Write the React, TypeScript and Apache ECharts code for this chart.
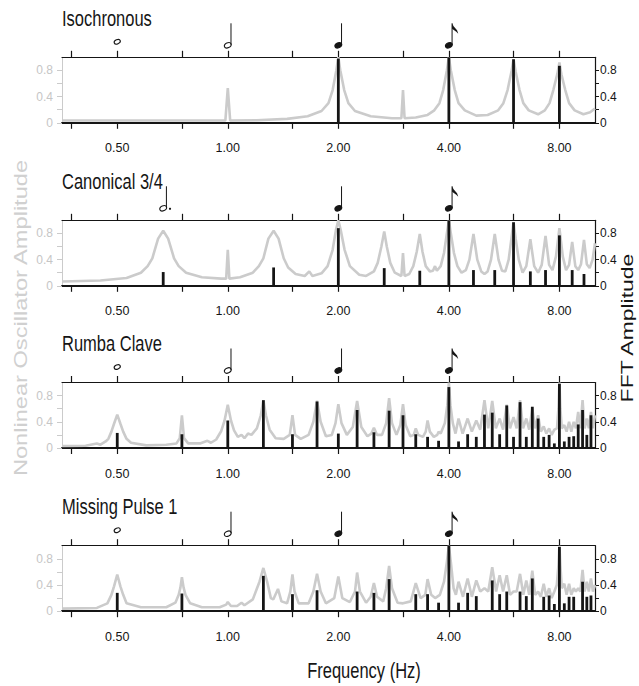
import React, { useEffect, useRef } from "react";
import * as echarts from "echarts";

// ---------- data ----------
const PANEL_TITLES = ["Isochronous", "Canonical 3/4", "Rumba Clave", "Missing Pulse 1"];
const LABEL_FREQS = [0.5, 1, 2, 4, 8];
const TICK_FREQS = [0.375, 0.5, 0.75, 1, 1.5, 2, 3, 4, 6, 8];
const Y_TICKS = [0, 0.2, 0.4, 0.6, 0.8];
const Y_LABELS = [0, 0.4, 0.8];
const F_MIN = 0.3536;
const F_MAX = 10;

const NOTE_KINDS = ["whole", "half", "dottedHalf", "quarter", "eighth"];
const NOTES_ISO: [number, string][] = [[0.5, "whole"], [1, "half"], [2, "quarter"], [4, "eighth"]];
const NOTES_CAN: [number, string][] = [[0.667, "dottedHalf"], [2, "quarter"], [4, "eighth"]];
const NOTES_RUM: [number, string][] = [[0.5, "whole"], [1, "half"], [2, "quarter"], [4, "eighth"]];
const NOTES_MIS: [number, string][] = [[0.5, "whole"], [1, "half"], [2, "quarter"], [4, "eighth"]];

// Nonlinear oscillator amplitude (grey), [Hz, amplitude]
const GRAY_ISO = [
  [0.354, 0.035], [0.6, 0.035], [0.9, 0.035], [0.985, 0.035], [1.0, 0.53], [1.015, 0.035], [1.2, 0.04],
  [1.45, 0.06], [1.65, 0.1], [1.8, 0.18], [1.88, 0.3], [1.93, 0.5], [1.975, 0.8], [2.0, 1.0], [2.025, 0.8],
  [2.075, 0.5], [2.13, 0.3], [2.22, 0.18], [2.45, 0.1], [2.8, 0.07], [2.97, 0.07], [3.0, 0.5], [3.03, 0.07],
  [3.25, 0.08], [3.5, 0.12], [3.65, 0.19], [3.77, 0.3], [3.86, 0.5], [3.95, 0.8], [4.0, 1.0], [4.05, 0.8],
  [4.15, 0.5], [4.25, 0.3], [4.42, 0.19], [4.75, 0.11], [5.1, 0.12], [5.45, 0.19], [5.63, 0.3], [5.78, 0.5],
  [5.93, 0.8], [6.0, 0.97], [6.08, 0.78], [6.23, 0.5], [6.38, 0.3], [6.6, 0.19], [7.0, 0.13], [7.3, 0.19],
  [7.52, 0.3], [7.7, 0.5], [7.9, 0.75], [8.0, 0.92], [8.1, 0.74], [8.3, 0.5], [8.5, 0.3], [8.8, 0.19],
  [9.3, 0.13], [9.7, 0.16], [10.0, 0.22],
];
const GRAY_CAN = [
  [0.354, 0.065], [0.45, 0.08], [0.53, 0.12], [0.58, 0.2], [0.605, 0.3], [0.623, 0.42], [0.646, 0.72],
  [0.667, 0.84], [0.688, 0.72], [0.714, 0.42], [0.735, 0.3], [0.77, 0.2], [0.85, 0.13], [0.96, 0.11],
  [0.99, 0.11], [1.0, 0.55], [1.01, 0.11], [1.08, 0.13], [1.17, 0.2], [1.215, 0.3], [1.25, 0.42], [1.29, 0.72],
  [1.333, 0.84], [1.375, 0.72], [1.42, 0.42], [1.46, 0.28], [1.53, 0.18], [1.62, 0.15], [1.667, 0.22],
  [1.7, 0.15], [1.8, 0.19], [1.87, 0.3], [1.93, 0.55], [1.97, 0.85], [2.0, 1.0], [2.03, 0.85], [2.08, 0.55],
  [2.15, 0.3], [2.28, 0.17], [2.38, 0.15], [2.5, 0.22], [2.56, 0.35], [2.62, 0.6], [2.667, 0.83], [2.71, 0.6],
  [2.77, 0.35], [2.85, 0.2], [2.97, 0.15], [3.0, 0.5], [3.03, 0.15], [3.12, 0.18], [3.2, 0.3], [3.27, 0.52],
  [3.333, 0.79], [3.39, 0.52], [3.46, 0.3], [3.55, 0.22], [3.62, 0.23], [3.667, 0.3], [3.71, 0.23], [3.8, 0.3],
  [3.88, 0.5], [3.95, 0.8], [4.0, 1.0], [4.05, 0.8], [4.13, 0.5], [4.22, 0.3], [4.33, 0.2], [4.45, 0.24],
  [4.55, 0.4], [4.667, 0.79], [4.78, 0.4], [4.9, 0.22], [5.0, 0.18], [5.1, 0.22], [5.21, 0.4], [5.333, 0.79],
  [5.46, 0.4], [5.58, 0.23], [5.7, 0.22], [5.82, 0.4], [5.93, 0.75], [6.0, 0.97], [6.08, 0.72], [6.2, 0.4],
  [6.35, 0.2], [6.5, 0.3], [6.667, 0.71], [6.83, 0.3], [7.0, 0.2], [7.16, 0.32], [7.333, 0.76], [7.5, 0.32],
  [7.66, 0.24], [7.83, 0.45], [8.0, 0.88], [8.17, 0.45], [8.34, 0.24], [8.5, 0.32], [8.667, 0.67], [8.84, 0.3],
  [9.0, 0.24], [9.16, 0.33], [9.333, 0.7], [9.5, 0.33], [9.67, 0.27], [9.85, 0.4], [10.0, 0.65],
];
const GRAY_RUM = [
  [0.354, 0.03], [0.41, 0.035], [0.44, 0.07], [0.45, 0.05], [0.465, 0.1], [0.473, 0.14], [0.482, 0.25],
  [0.49, 0.37], [0.5, 0.51], [0.51, 0.37], [0.519, 0.25], [0.53, 0.14], [0.545, 0.08], [0.6, 0.04],
  [0.68, 0.05], [0.725, 0.07], [0.74, 0.15], [0.75, 0.5], [0.76, 0.15], [0.78, 0.07], [0.84, 0.07],
  [0.88, 0.11], [0.9, 0.08], [0.93, 0.13], [0.96, 0.26], [0.98, 0.42], [1.0, 0.66], [1.02, 0.42], [1.04, 0.27],
  [1.065, 0.17], [1.09, 0.2], [1.11, 0.15], [1.135, 0.22], [1.16, 0.2], [1.2, 0.3], [1.23, 0.5], [1.25, 0.73],
  [1.27, 0.5], [1.3, 0.28], [1.35, 0.15], [1.42, 0.14], [1.475, 0.2], [1.5, 0.5], [1.525, 0.2], [1.58, 0.14],
  [1.66, 0.2], [1.71, 0.4], [1.75, 0.72], [1.79, 0.4], [1.85, 0.18], [1.92, 0.2], [1.965, 0.38], [2.0, 0.67],
  [2.04, 0.38], [2.11, 0.2], [2.19, 0.32], [2.25, 0.72], [2.31, 0.32], [2.4, 0.18], [2.46, 0.22], [2.5, 0.31],
  [2.55, 0.2], [2.63, 0.2], [2.7, 0.38], [2.75, 0.76], [2.8, 0.38], [2.88, 0.2], [2.95, 0.35], [3.0, 0.67],
  [3.05, 0.35], [3.14, 0.18], [3.21, 0.2], [3.25, 0.3], [3.3, 0.2], [3.4, 0.17], [3.46, 0.25], [3.5, 0.42],
  [3.55, 0.25], [3.64, 0.17], [3.72, 0.2], [3.75, 0.25], [3.8, 0.22], [3.9, 0.38], [3.96, 0.65], [4.0, 1.0],
  [4.04, 0.65], [4.1, 0.38], [4.17, 0.22], [4.25, 0.45], [4.36, 0.22], [4.5, 0.45], [4.62, 0.25], [4.75, 0.42],
  [4.87, 0.28], [5.0, 0.73], [5.12, 0.3], [5.25, 0.72], [5.37, 0.3], [5.5, 0.45], [5.62, 0.28], [5.75, 0.66],
  [5.87, 0.3], [6.0, 0.47], [6.12, 0.3], [6.25, 0.73], [6.37, 0.3], [6.5, 0.45], [6.62, 0.28], [6.75, 0.6],
  [6.87, 0.3], [7.0, 0.5], [7.12, 0.25], [7.25, 0.33], [7.37, 0.22], [7.5, 0.3], [7.62, 0.2], [7.75, 0.28],
  [7.88, 0.3], [7.95, 0.6], [8.0, 1.0], [8.05, 0.6], [8.12, 0.3], [8.25, 0.35], [8.37, 0.25], [8.5, 0.4],
  [8.62, 0.25], [8.75, 0.4], [8.87, 0.3], [9.0, 0.55], [9.12, 0.3], [9.25, 0.73], [9.37, 0.3], [9.5, 0.45],
  [9.62, 0.3], [9.75, 0.55], [9.87, 0.3], [10.0, 0.5],
];
const GRAY_MIS = [
  [0.354, 0.04], [0.44, 0.05], [0.47, 0.12], [0.482, 0.25], [0.49, 0.38], [0.5, 0.56], [0.51, 0.38],
  [0.519, 0.25], [0.53, 0.12], [0.58, 0.06], [0.68, 0.06], [0.72, 0.13], [0.735, 0.25], [0.743, 0.36],
  [0.75, 0.52], [0.758, 0.36], [0.767, 0.25], [0.79, 0.12], [0.85, 0.06], [0.95, 0.06], [0.99, 0.1],
  [1.0, 0.14], [1.02, 0.08], [1.06, 0.08], [1.09, 0.13], [1.11, 0.09], [1.17, 0.18], [1.22, 0.45],
  [1.25, 0.66], [1.28, 0.45], [1.31, 0.2], [1.33, 0.18], [1.37, 0.34], [1.4, 0.15], [1.45, 0.12], [1.48, 0.3],
  [1.5, 0.56], [1.52, 0.3], [1.56, 0.12], [1.66, 0.12], [1.71, 0.3], [1.75, 0.57], [1.79, 0.3], [1.85, 0.12],
  [1.95, 0.2], [2.0, 0.53], [2.05, 0.2], [2.15, 0.14], [2.22, 0.3], [2.25, 0.59], [2.29, 0.3], [2.38, 0.13],
  [2.45, 0.22], [2.5, 0.43], [2.55, 0.22], [2.65, 0.15], [2.7, 0.35], [2.75, 0.69], [2.8, 0.35], [2.9, 0.13],
  [3.0, 0.12], [3.15, 0.15], [3.25, 0.43], [3.35, 0.2], [3.45, 0.25], [3.5, 0.49], [3.58, 0.25], [3.67, 0.2],
  [3.78, 0.25], [3.88, 0.45], [3.95, 0.75], [4.0, 1.0], [4.05, 0.75], [4.12, 0.35], [4.18, 0.25], [4.25, 0.45],
  [4.37, 0.22], [4.5, 0.5], [4.62, 0.22], [4.75, 0.47], [4.87, 0.3], [5.0, 0.35], [5.12, 0.3], [5.25, 0.67],
  [5.38, 0.3], [5.5, 0.55], [5.62, 0.3], [5.75, 0.55], [5.87, 0.25], [6.0, 0.3], [6.12, 0.3], [6.25, 0.57],
  [6.38, 0.25], [6.5, 0.47], [6.62, 0.25], [6.75, 0.62], [6.87, 0.25], [7.0, 0.3], [7.12, 0.22], [7.25, 0.42],
  [7.37, 0.22], [7.5, 0.35], [7.62, 0.2], [7.75, 0.3], [7.87, 0.4], [7.95, 0.7], [8.0, 1.0], [8.05, 0.7],
  [8.12, 0.35], [8.25, 0.42], [8.37, 0.25], [8.5, 0.42], [8.62, 0.25], [8.75, 0.35], [8.87, 0.3], [9.0, 0.35],
  [9.12, 0.3], [9.25, 0.63], [9.37, 0.3], [9.5, 0.45], [9.62, 0.3], [9.75, 0.5], [9.87, 0.3], [10.0, 0.4],
];

// FFT amplitude (black), [Hz, amplitude]
const BLACK_ISO = [[2, 0.98], [4, 1.0], [6, 0.97], [8, 0.87]];
const BLACK_CAN = [
  [0.667, 0.21], [1.333, 0.28], [2, 0.88], [2.667, 0.27], [3.333, 0.23], [4, 1.0], [4.667, 0.24],
  [5.333, 0.24], [6, 0.97], [6.667, 0.22], [7.333, 0.24], [8, 0.77], [8.667, 0.24], [9.333, 0.18],
];
const BLACK_RUM = [
  [0.5, 0.23], [0.75, 0.21], [1, 0.42], [1.25, 0.73], [1.5, 0.21], [1.75, 0.71], [2, 0.22], [2.25, 0.58],
  [2.5, 0.24], [2.75, 0.57], [3, 0.5], [3.25, 0.21], [3.5, 0.17], [3.75, 0.11], [4, 0.93], [4.25, 0.1],
  [4.5, 0.21], [4.75, 0.17], [5, 0.51], [5.25, 0.54], [5.5, 0.21], [5.75, 0.65], [6, 0.17], [6.25, 0.7],
  [6.5, 0.17], [6.75, 0.63], [7, 0.45], [7.25, 0.17], [7.5, 0.2], [7.75, 0.07], [8, 0.98], [8.25, 0.1],
  [8.5, 0.17], [8.75, 0.18], [9, 0.36], [9.25, 0.58], [9.5, 0.2], [9.75, 0.5],
];
const BLACK_MIS = [
  [0.5, 0.28], [0.75, 0.27], [1.25, 0.54], [1.5, 0.26], [1.75, 0.32], [2.25, 0.3], [2.5, 0.28], [2.75, 0.49],
  [3.25, 0.26], [3.5, 0.26], [3.75, 0.13], [4, 1.0], [4.25, 0.13], [4.5, 0.28], [4.75, 0.23], [5.25, 0.47],
  [5.5, 0.26], [5.75, 0.3], [6.25, 0.3], [6.5, 0.23], [6.75, 0.5], [7.25, 0.22], [7.5, 0.24], [7.75, 0.11],
  [8, 0.98], [8.25, 0.12], [8.5, 0.22], [8.75, 0.22], [9.25, 0.45], [9.5, 0.22], [9.75, 0.24],
];

const GRAYS = [GRAY_ISO, GRAY_CAN, GRAY_RUM, GRAY_MIS];
const BLACKS = [BLACK_ISO, BLACK_CAN, BLACK_RUM, BLACK_MIS];
const NOTES = [NOTES_ISO, NOTES_CAN, NOTES_RUM, NOTES_MIS];

// ---------- layout / style ----------
const GRID_TOPS = [57.3, 220.3, 382.5, 545.7];
const GRID_H = 65.5;
const GRID_LEFT = 62;
const GRID_RIGHT = 44;
const FONT = '"Liberation Sans", Arial, Helvetica, sans-serif';
const GRAY = "#cbcbcb";
const GRAY_TEXT = "#c6c6c6";
const INK = "#151515";

const log2 = (f: number) => Math.log2(f);

function renderNote(params: any, api: any) {
  const xv = api.value(0);
  const kind = NOTE_KINDS[api.value(2)];
  const p = api.coord([xv, 1]);
  const x = p[0];
  const T = p[1];
  const filled = kind === "quarter" || kind === "eighth";
  const headY = kind === "whole" ? T - 15.5 : T - 12;
  const children: any[] = [
    {
      type: "ellipse",
      x: x,
      y: headY,
      rotation: 0.4,
      shape: { cx: 0, cy: 0, rx: kind === "whole" ? 3.2 : 3.6, ry: kind === "whole" ? 2.1 : 2.5 },
      style: { fill: filled ? INK : "none", stroke: INK, lineWidth: 1.1 },
    },
  ];
  if (kind !== "whole") {
    const sx = x + 3.2;
    const top = T - 34;
    children.push({
      type: "line",
      shape: { x1: sx, y1: headY - 0.5, x2: sx, y2: top },
      style: { stroke: INK, lineWidth: 1 },
    });
    if (kind === "eighth") {
      children.push({
        type: "polygon",
        shape: {
          points: [[sx, top], [sx + 1.5, top + 3], [sx + 5, top + 7], [sx + 6.2, top + 10.5], [sx + 4.2, top + 8.5], [sx, top + 5.5]],
        },
        style: { fill: INK },
      });
    }
    if (kind === "dottedHalf") {
      children.push({ type: "circle", shape: { cx: x + 6.8, cy: headY + 0.5, r: 1.1 }, style: { fill: INK } });
    }
  }
  return { type: "group", children };
}

function buildOption() {
  const grid: any[] = [];
  const xAxis: any[] = [];
  const yAxis: any[] = [];
  const series: any[] = [];
  const graphic: any[] = [];
  const xMin = log2(F_MIN);
  const xMax = log2(F_MAX);
  const tickVals = TICK_FREQS.map(log2);
  const labelVals = LABEL_FREQS.map(log2);

  for (let i = 0; i < 4; i++) {
    grid.push({ left: GRID_LEFT, right: GRID_RIGHT, top: GRID_TOPS[i], height: GRID_H, containLabel: false });
    // bottom x axis (labels)
    xAxis.push({
      type: "value", gridIndex: i, position: "bottom", min: xMin, max: xMax,
      axisLine: { show: true, onZero: false, lineStyle: { color: INK, width: 2 } },
      axisTick: { show: true, inside: false, length: 6, customValues: tickVals, lineStyle: { color: INK, width: 1.2 } },
      axisLabel: {
        show: true, customValues: labelVals, margin: 19, fontSize: 12.5, fontFamily: FONT, color: INK,
        formatter: (v: number) => Math.pow(2, v).toFixed(2),
      },
      splitLine: { show: false },
    });
    // top x axis (ticks only)
    xAxis.push({
      type: "value", gridIndex: i, position: "top", min: xMin, max: xMax,
      axisLine: { show: true, onZero: false, lineStyle: { color: INK, width: 1.2 } },
      axisTick: { show: true, inside: false, length: 6.5, customValues: tickVals, lineStyle: { color: INK, width: 1.2 } },
      axisLabel: { show: false },
      splitLine: { show: false },
    });
    // left y axis (oscillator, grey)
    yAxis.push({
      type: "value", gridIndex: i, position: "left", min: 0, max: 1,
      axisLine: { show: true, onZero: false, lineStyle: { color: GRAY, width: 1 } },
      axisTick: { show: true, inside: false, length: 5, customValues: Y_TICKS, lineStyle: { color: GRAY } },
      axisLabel: {
        show: true, customValues: Y_LABELS, margin: 9, fontSize: 12, fontFamily: FONT, color: GRAY_TEXT,
        formatter: (v: number) => (v === 0 ? "0" : v.toFixed(1)),
      },
      splitLine: { show: false },
    });
    // right y axis (FFT, black)
    yAxis.push({
      type: "value", gridIndex: i, position: "right", min: 0, max: 1,
      axisLine: { show: true, onZero: false, lineStyle: { color: INK, width: 1.2 } },
      axisTick: { show: true, inside: false, length: 4, customValues: Y_TICKS, lineStyle: { color: INK } },
      axisLabel: {
        show: true, customValues: Y_LABELS, margin: 5, fontSize: 12, fontFamily: FONT, color: INK,
        formatter: (v: number) => (v === 0 ? "0" : v.toFixed(1)),
      },
      splitLine: { show: false },
    });

    series.push({
      type: "line", name: "oscillator " + PANEL_TITLES[i], xAxisIndex: 2 * i, yAxisIndex: 2 * i,
      data: GRAYS[i].map(([f, a]) => [log2(f), a]),
      showSymbol: false, symbol: "none", smooth: false,
      lineStyle: { color: GRAY, width: 2.6 }, z: 2, silent: true,
    });
    series.push({
      type: "bar", name: "fft " + PANEL_TITLES[i], xAxisIndex: 2 * i, yAxisIndex: 2 * i + 1,
      data: BLACKS[i].map(([f, a]) => [log2(f), a]),
      barWidth: 2.8, itemStyle: { color: INK }, z: 3, silent: true,
    });
    series.push({
      type: "custom", name: "notes " + PANEL_TITLES[i], xAxisIndex: 2 * i, yAxisIndex: 2 * i,
      data: NOTES[i].map(([f, k]) => [log2(f), 1, NOTE_KINDS.indexOf(k)]),
      encode: { x: 0, y: 1 }, renderItem: renderNote, silent: true, z: 4,
    });

    graphic.push({
      type: "text", x: GRID_LEFT, y: GRID_TOPS[i] - 39.5, scaleY: 1.35, silent: true,
      style: { text: PANEL_TITLES[i], fontSize: 16.5, fontFamily: FONT, fill: INK, align: "left", verticalAlign: "middle" },
    });
  }

  graphic.push({
    type: "text", x: 21, y: 318, rotation: Math.PI / 2, scaleX: 1.35, silent: true,
    style: { text: "Nonlinear Oscillator Amplitude", fontSize: 17.5, fontFamily: FONT, fill: "#d0d0d0", align: "center", verticalAlign: "middle" },
  });
  graphic.push({
    type: "text", x: 627, y: 328, rotation: Math.PI / 2, scaleX: 1.35, silent: true,
    style: { text: "FFT Amplitude", fontSize: 17, fontFamily: FONT, fill: INK, align: "center", verticalAlign: "middle" },
  });
  graphic.push({
    type: "text", x: 364, y: 670, scaleY: 1.35, silent: true,
    style: { text: "Frequency (Hz)", fontSize: 16.5, fontFamily: FONT, fill: INK, align: "center", verticalAlign: "middle" },
  });

  return {
    animation: false,
    backgroundColor: "#ffffff",
    textStyle: { fontFamily: FONT },
    grid, xAxis, yAxis, series, graphic,
  };
}

export default function App() {
  const ref = useRef<HTMLDivElement>(null);
  useEffect(() => {
    if (!ref.current) return;
    const chart = echarts.init(ref.current, null, { renderer: "svg" });
    chart.setOption(buildOption() as any);
    return () => chart.dispose();
  }, []);
  return <div ref={ref} style={{ position: "absolute", left: 0, top: 0, width: 639, height: 686 }} />;
}
